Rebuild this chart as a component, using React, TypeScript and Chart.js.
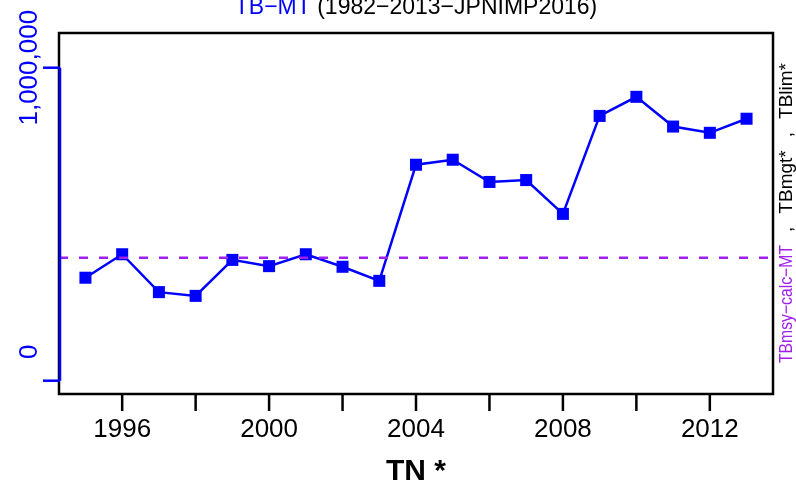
import React, { useEffect, useRef } from "react";
import { Chart, registerables } from "chart.js";

Chart.register(...registerables);

// ---- data ----
const years = [1995, 1996, 1997, 1998, 1999, 2000, 2001, 2002, 2003, 2004, 2005, 2006, 2007, 2008, 2009, 2010, 2011, 2012, 2013];
const tbMT = [329000, 404000, 283000, 271000, 386000, 366000, 404000, 364000, 319000, 690000, 706000, 635000, 641000, 533000, 846000, 907000, 812000, 792000, 837000];
const tbmsyCalcMT = 393000;
const xTickValues = [1996, 1998, 2000, 2002, 2004, 2006, 2008, 2010, 2012];
const xTickLabels = ["1996", "", "2000", "", "2004", "", "2008", "", "2012"];
const yTickValues = [0, 1000000];
const yTickLabels = ["0", "1,000,000"];
const titleBlue = "TB\u2212MT";
const titleBlack = " (1982\u22122013\u2212JPNIMP2016)";
const xAxisTitle = "TN *";
const rightPurple = "TBmsy\u2212calc\u2212MT";
const rightBlackTokens = [",", "TBmgt*", ",", "TBlim*"];

const X_MIN = 1994.28;
const X_MAX = 2013.72;
const Y_MIN = -42500;
const Y_MAX = 1110900;

const BLUE = "#0000FF";
const PURPLE = "#A020F0";
const FONT = '"Liberation Sans", Arial, sans-serif';

const decorPlugin = {
  id: "decor",
  afterDraw(chart: any) {
    const ctx = chart.ctx;
    const area = chart.chartArea;
    const xs = chart.scales.x;
    const ys = chart.scales.y;
    ctx.save();
    // box
    ctx.strokeStyle = "#000";
    ctx.lineWidth = 2.5;
    ctx.strokeRect(area.left, area.top, area.right - area.left, area.bottom - area.top);

    // y axis (blue)
    const y0 = ys.getPixelForValue(yTickValues[0]);
    const y1 = ys.getPixelForValue(yTickValues[yTickValues.length - 1]);
    ctx.strokeStyle = BLUE;
    ctx.lineWidth = 2.5;
    ctx.beginPath();
    ctx.moveTo(area.left + 1, y0);
    ctx.lineTo(area.left + 1, y1);
    ctx.stroke();
    ctx.fillStyle = BLUE;
    ctx.font = `26px ${FONT}`;
    ctx.textAlign = "center";
    ctx.textBaseline = "alphabetic";
    yTickValues.forEach((v, i) => {
      const py = ys.getPixelForValue(v);
      ctx.beginPath();
      ctx.moveTo(area.left + 1, py);
      ctx.lineTo(area.left - 16, py);
      ctx.stroke();
      const shift = v === 0 ? -29 : 0;
      ctx.save();
      ctx.translate(37, py + shift);
      ctx.rotate(-Math.PI / 2);
      ctx.fillText(yTickLabels[i], 0, 0);
      ctx.restore();
    });

    // x axis ticks
    ctx.strokeStyle = "#000";
    ctx.fillStyle = "#000";
    ctx.lineWidth = 2.5;
    xTickValues.forEach((v, i) => {
      const px = xs.getPixelForValue(v);
      ctx.beginPath();
      ctx.moveTo(px, area.bottom);
      ctx.lineTo(px, area.bottom + 17);
      ctx.stroke();
      if (xTickLabels[i]) {
        ctx.fillText(xTickLabels[i], px, 437);
      }
    });

    const cx = (area.left + area.right) / 2;
    // x axis title
    ctx.font = `bold 30px ${FONT}`;
    ctx.fillText(xAxisTitle, cx, 480);

    // main title
    ctx.font = `23px ${FONT}`;
    ctx.textAlign = "left";
    const wb = ctx.measureText(titleBlue).width;
    const wk = ctx.measureText(titleBlack).width;
    const tx = cx - (wb + wk) / 2;
    ctx.fillStyle = BLUE;
    ctx.fillText(titleBlue, tx, 14);
    ctx.fillStyle = "#000";
    ctx.fillText(titleBlack, tx + wb, 14);

    // right label (reads bottom to top)
    ctx.font = `18px ${FONT}`;
    const startY = 363;
    const purpleEnd = 245;
    const endY = 63;
    const wp = ctx.measureText(rightPurple).width;
    const sp = (startY - purpleEnd) / wp;
    ctx.save();
    ctx.translate(791.5, startY);
    ctx.rotate(-Math.PI / 2);
    ctx.fillStyle = PURPLE;
    ctx.save();
    ctx.scale(sp, 1);
    ctx.fillText(rightPurple, 0, 0);
    ctx.restore();
    ctx.font = `19px ${FONT}`;
    const tokenWidths = rightBlackTokens.map((t) => ctx.measureText(t).width);
    const used = tokenWidths.reduce((a, b) => a + b, 0);
    const gap = (purpleEnd - endY - used) / rightBlackTokens.length;
    ctx.fillStyle = "#000";
    let pos = startY - purpleEnd;
    rightBlackTokens.forEach((t, i) => {
      pos += gap;
      ctx.fillText(t, pos, 0);
      pos += tokenWidths[i];
    });
    ctx.restore();

    ctx.restore();
  },
};

export default function App() {
  const ref = useRef<HTMLCanvasElement>(null);
  useEffect(() => {
    if (!ref.current) return;
    const chart = new Chart(ref.current, {
      type: "line",
      data: {
        datasets: [
          {
            label: "TBmsy-calc-MT",
            data: [
              { x: X_MIN, y: tbmsyCalcMT },
              { x: X_MAX, y: tbmsyCalcMT },
            ],
            borderColor: PURPLE,
            borderWidth: 2.5,
            borderDash: [9, 11],
            pointRadius: 0,
            fill: false,
          },
          {
            label: "TB-MT",
            data: years.map((yr, i) => ({ x: yr, y: tbMT[i] })),
            borderColor: BLUE,
            borderWidth: 2.5,
            pointStyle: "rect",
            pointRadius: 8.5,
            pointBackgroundColor: BLUE,
            pointBorderWidth: 0,
            fill: false,
            tension: 0,
          },
        ],
      },
      options: {
        animation: false,
        responsive: false,
        devicePixelRatio: 1,
        layout: { padding: { left: 59, right: 23, top: 33, bottom: 97 } },
        plugins: { legend: { display: false }, tooltip: { enabled: false }, title: { display: false } },
        scales: {
          x: { type: "linear", min: X_MIN, max: X_MAX, display: false },
          y: { type: "linear", min: Y_MIN, max: Y_MAX, display: false },
        },
      },
      plugins: [decorPlugin],
    });
    return () => chart.destroy();
  }, []);
  return (
    <div style={{ position: "fixed", left: 0, top: 0, width: 796, height: 491, background: "#fff" }}>
      <canvas ref={ref} width={796} height={491} style={{ width: 796, height: 491 }} />
    </div>
  );
}
